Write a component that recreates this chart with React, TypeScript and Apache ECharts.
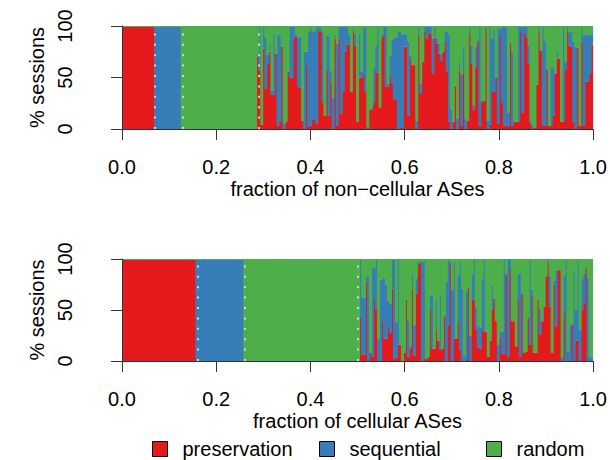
import React, { useEffect, useRef } from "react";
import * as echarts from "echarts";

// ---------- data ----------
const xTickValues = [0, 0.2, 0.4, 0.6, 0.8, 1.0];
const yTickValues = [0, 50, 100];
const seriesNames = ["preservation", "sequential", "random"];
const seriesColors = ["#E41A1C", "#377EB8", "#4DAF4A"];
const panelTitles = ["fraction of non\u2212cellular ASes", "fraction of cellular ASes"];
const yTitle = "% sessions";

// share (%) of the dominant scheme in the single-scheme ASes
const solidShare = 99;

// number of ASes that use only preservation / only sequential / only random
const nonCellularSolidCounts = [16, 13, 37];
// mixed ASes: % preservation and % sequential (random = the rest)
const nonCellularMixedPreservation = [
  70, 57, 4, 78, 39, 63, 75, 33, 33, 73, 3, 7, 80, 0, 7, 56, 50, 50, 89, 90,
  41, 40, 8, 0, 62, 2, 3, 9, 10, 5, 95, 95, 26, 13, 58, 13, 46, 0, 88, 3,
  88, 15, 36, 75, 83, 82, 36, 95, 81, 7, 50, 50, 54, 36, 0, 19, 19, 26, 55, 55,
  21, 89, 92, 41, 41, 52, 45, 29, 29, 0, 1, 1, 80, 80, 13, 68, 62, 62, 0, 91, 34, 65,
  95, 88, 93, 93, 54, 89, 83, 73, 66, 75, 86, 56, 7, 0, 7, 42, 0, 57, 3, 55,
  0, 8, 93, 63, 19, 60, 86, 3, 27, 27, 97, 0, 4, 36, 36, 50, 5, 91, 26, 3,
  3, 3, 84, 3, 7, 7, 7, 95, 16, 94, 89, 63, 5, 0, 1, 43, 94, 76, 3, 3,
  58, 3, 3, 13, 54, 68, 68, 7, 7, 58, 94, 81, 80, 7, 0, 79, 3, 85, 3, 46, 46, 54, 82,
];
const nonCellularMixedSequential = [
  3, 43, 0, 22, 50, 9, 8, 4, 60, 0, 89, 85, 0, 5, 0, 0, 49, 49, 10, 2,
  48, 50, 0, 75, 13, 92, 96, 86, 85, 94, 4, 3, 68, 0, 33, 78, 11, 30, 4, 80,
  11, 84, 63, 24, 16, 10, 0, 3, 11, 0, 43, 6, 44, 63, 2, 0, 3, 33, 26, 44,
  0, 3, 7, 58, 3, 19, 42, 60, 60, 95, 94, 91, 12, 12, 72, 3, 0, 0, 8, 8, 10, 0,
  4, 11, 6, 6, 34, 10, 5, 10, 7, 0, 9, 39, 85, 19, 0, 0, 10, 8, 50, 25,
  10, 0, 6, 18, 4, 20, 0, 96, 0, 0, 2, 8, 95, 52, 61, 0, 93, 6, 73, 96,
  96, 13, 0, 72, 0, 0, 92, 4, 83, 5, 10, 19, 3, 3, 0, 0, 5, 0, 96, 83,
  0, 0, 57, 47, 0, 9, 0, 0, 92, 7, 5, 13, 15, 78, 80, 0, 0, 14, 88, 46, 46, 37, 11,
];

const cellularSolidCounts = [37, 24, 58];
const cellularMixedPreservation = [
  43, 6, 6, 78, 0, 8, 4, 61, 50, 0, 0, 39, 22, 22, 35, 28, 71, 2, 3, 16,
  16, 0, 8, 60, 4, 12, 71, 5, 66, 95, 95, 0, 2, 2, 4, 50, 12, 12, 30, 20,
  11, 12, 44, 0, 35, 95, 0, 22, 22, 39, 11, 0, 0, 1, 73, 0, 60,
  60, 31, 13, 12, 31, 29, 29, 4, 20, 50, 61, 39, 0, 23, 7, 7, 85, 4, 91, 39,
  39, 14, 60, 4, 66, 8, 9, 42, 16, 65, 8, 8, 60, 26, 39, 53, 83, 97, 53, 8,
  75, 34, 89, 89, 0, 47, 0, 0, 0, 36, 0, 20, 20, 0, 50, 57, 92, 0, 0, 0,
];
const cellularMixedSequential = [
  56, 56, 56, 5, 84, 0, 88, 30, 50, 22, 80, 42, 60, 53, 24, 28, 29, 97, 35, 83,
  0, 0, 0, 0, 36, 3, 15, 30, 15, 2, 2, 97, 96, 0, 0, 15, 53, 0, 31, 0,
  54, 0, 0, 78, 64, 2, 70, 75, 0, 45, 86, 71, 5, 68, 0, 25, 25,
  40, 22, 21, 21, 50, 70, 0, 0, 0, 25, 0, 0, 16, 6, 22, 93, 0, 95, 9, 0,
  0, 0, 26, 82, 0, 0, 0, 0, 83, 5, 0, 0, 0, 24, 0, 0, 0, 3, 30, 0,
  4, 55, 0, 0, 3, 37, 98, 10, 35, 0, 90, 30, 78, 31, 31, 29, 0, 82, 4, 3,
];

// ---------- helpers ----------
function buildPanel(solidCounts: number[], mixedRed: number[], mixedBlue: number[]) {
  const red: number[] = [];
  const blue: number[] = [];
  solidCounts.forEach((count, k) => {
    for (let i = 0; i < count; i++) {
      red.push(k === 0 ? solidShare : 0);
      blue.push(k === 1 ? solidShare : 0);
    }
  });
  mixedRed.forEach((r, i) => {
    red.push(r);
    blue.push(mixedBlue[i]);
  });
  const green = red.map((r, i) => Math.max(0, 100 - r - blue[i]));
  const total = red.length;
  const boundaries: number[] = [];
  let cum = 0;
  solidCounts.forEach((c) => {
    cum += c;
    boundaries.push(cum / total);
  });
  const nz = (v: number) => (v > 0 ? v : null);
  return {
    categories: red.map((_, i) => String(i)),
    values: [red.map(nz), blue.map(nz), green.map(nz)],
    boundaries,
  };
}

const FONT = "'Liberation Sans', Arial, Helvetica, sans-serif";

export default function App() {
  const ref = useRef<HTMLDivElement>(null);

  useEffect(() => {
    if (!ref.current) return;
    const chart = echarts.init(ref.current, undefined, { renderer: "svg" });
    const panels = [
      buildPanel(nonCellularSolidCounts, nonCellularMixedPreservation, nonCellularMixedSequential),
      buildPanel(cellularSolidCounts, cellularMixedPreservation, cellularMixedSequential),
    ];

    const grids = [
      { left: 122, top: 26, width: 472, height: 103 },
      { left: 122, top: 259, width: 472, height: 102 },
    ];

    const textBase = { fontSize: 20, color: "#000", fontFamily: FONT };
    const axisColor = "#333";

    const xAxes: any[] = [];
    const yAxes: any[] = [];
    const series: any[] = [];

    panels.forEach((p, g) => {
      xAxes.push({
        type: "category",
        gridIndex: g,
        data: p.categories,
        show: false,
        position: "bottom",
        boundaryGap: true,
      });
      xAxes.push({
        type: "value",
        gridIndex: g,
        position: "bottom",
        min: 0,
        max: 1,
        interval: 0.2,
        z: 10,
        name: panelTitles[g],
        nameLocation: "middle",
        nameGap: 60,
        nameTextStyle: { ...textBase, verticalAlign: "middle" },
        axisLine: { show: true, lineStyle: { color: axisColor, width: 1 } },
        axisTick: {
          show: true,
          length: 11,
          customValues: xTickValues,
          lineStyle: { color: axisColor, width: 1 },
        },
        axisLabel: {
          ...textBase,
          margin: 38,
          verticalAlign: "middle",
          customValues: xTickValues,
          showMinLabel: true,
          showMaxLabel: true,
          formatter: (v: number) => v.toFixed(1),
        },
        splitLine: { show: false },
      });
      yAxes.push({
        type: "value",
        gridIndex: g,
        min: 0,
        max: 100,
        interval: 50,
        offset: 19,
        z: 10,
        name: yTitle,
        nameLocation: "middle",
        nameGap: 60,
        nameRotate: 90,
        nameTextStyle: { ...textBase, verticalAlign: "middle", align: "center" },
        axisLine: { show: true, lineStyle: { color: axisColor, width: 1 } },
        axisTick: {
          show: true,
          length: 11,
          customValues: yTickValues,
          lineStyle: { color: axisColor, width: 1 },
        },
        axisLabel: {
          ...textBase,
          rotate: 90,
          margin: 38,
          align: "center",
          verticalAlign: "middle",
          customValues: yTickValues,
          showMinLabel: true,
          showMaxLabel: true,
        },
        splitLine: { show: false },
      });

      seriesNames.forEach((name, k) => {
        series.push({
          type: "bar",
          name,
          xAxisIndex: 2 * g,
          yAxisIndex: g,
          stack: "panel" + g,
          data: p.values[k],
          barWidth: 3,
          barGap: "0%",
          silent: true,
          emphasis: { disabled: true },
          itemStyle: { color: seriesColors[k], borderWidth: 0 },
        });
      });

      series.push({
        type: "line",
        xAxisIndex: 2 * g + 1,
        yAxisIndex: g,
        data: [],
        symbol: "none",
        silent: true,
        z: 5,
        markLine: {
          silent: true,
          symbol: ["none", "none"],
          label: { show: false },
          lineStyle: { color: "#d6d6d6", width: 2, type: [2, 8.4], opacity: 1 },
          emphasis: { disabled: true },
          data: p.boundaries.map((b) => ({ xAxis: b })),
        },
      });
    });

    const legendLefts = [152, 319, 486];
    const legends = seriesNames.map((name, i) => ({
      data: [name],
      left: legendLefts[i],
      top: 439,
      orient: "horizontal",
      padding: 0,
      itemWidth: 15,
      itemHeight: 15,
      icon: "rect",
      selectedMode: false,
      itemStyle: { borderColor: "#000", borderWidth: 1 },
      formatter: (n: string) => `{t|${n}}`,
      textStyle: {
        ...textBase,
        rich: { t: { ...textBase, padding: [0, 0, 0, 10] } },
      },
    }));

    chart.setOption({
      animation: false,
      backgroundColor: "#fff",
      textStyle: { fontFamily: FONT },
      grid: grids,
      xAxis: xAxes,
      yAxis: yAxes,
      legend: legends,
      series,
    });

    return () => chart.dispose();
  }, []);

  return (
    <div
      ref={ref}
      style={{ position: "absolute", left: 0, top: 0, width: 610, height: 460 }}
    />
  );
}
